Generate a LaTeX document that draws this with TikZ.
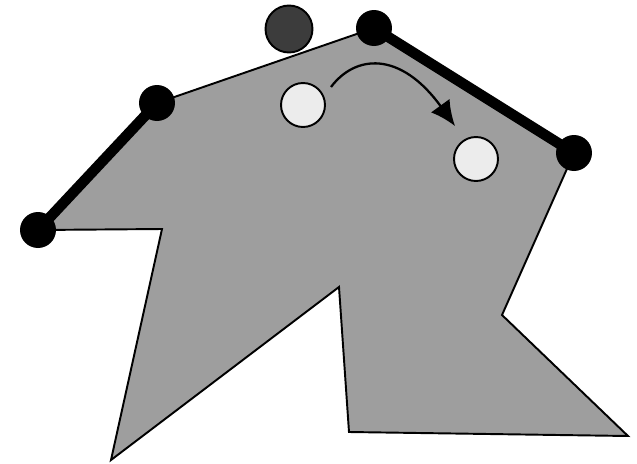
\documentclass[tikz,border=0pt]{standalone}
\usetikzlibrary{arrows.meta}
\definecolor{polygray}{HTML}{9E9E9E}
\definecolor{darkball}{HTML}{3C3C3C}
\definecolor{lightball}{HTML}{ECECEC}
\begin{document}
\begin{tikzpicture}[x=0.02cm, y=-0.02cm,
  corner/.style={circle, fill=black, inner sep=0pt, minimum size=0.72cm},
  ball/.style={circle, draw=black, line width=1.1pt, inner sep=0pt, minimum size=0.88cm}]
\useasboundingbox (0,0) rectangle (637,464);
% polygon corners
\coordinate (a) at (38,230);
\coordinate (b) at (157,103);
\coordinate (c) at (374,28);
\coordinate (d) at (574,153);
\coordinate (e) at (502,315);
\coordinate (f) at (628,436);
\coordinate (g) at (349,432);
\coordinate (h) at (339,287);
\coordinate (i) at (111,460);
\coordinate (j) at (162,229);
\draw[fill=polygray, line width=1.1pt, line join=miter] (a) -- (b) -- (c) -- (d) -- (e) -- (f) -- (g) -- (h) -- (i) -- (j) -- cycle;
\draw[line width=6pt] (a) -- (b);
\draw[line width=6pt] (c) -- (d);
\node[corner] (ca) at (a) {};
\node[corner] (cb) at (b) {};
\node[corner] (cc) at (c) {};
\node[corner] (cd) at (d) {};
\node[ball, fill=darkball, minimum size=0.94cm] (top) at (289,29) {};
\node[ball, fill=lightball] (start) at (303,105) {};
\node[ball, fill=lightball] (goal) at (476,159) {};
\coordinate (from) at (331,87);
\coordinate (to) at (455,126);
\draw[line width=1.3pt, -{Latex[length=0.5cm, width=0.46cm]}] (from) .. controls (355,55) and (400,50) .. (to);
\end{tikzpicture}
\end{document}
